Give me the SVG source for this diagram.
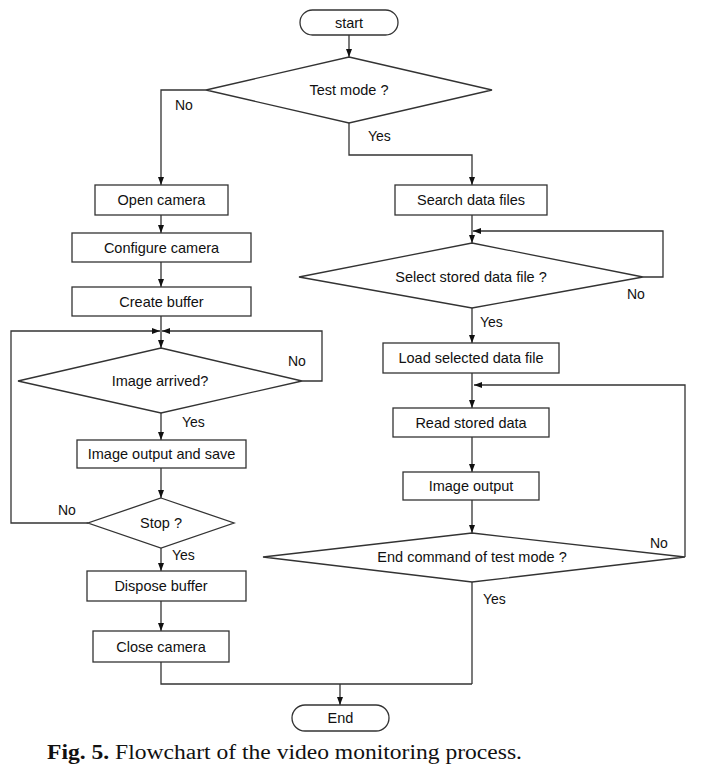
<svg xmlns="http://www.w3.org/2000/svg" width="705" height="777" viewBox="0 0 705 777">
<style>
.s{fill:#fff;stroke:#333;stroke-width:1.3}
.t{font-family:"Liberation Sans",Arial,sans-serif;font-size:14.5px;fill:#111;text-anchor:middle;dominant-baseline:central}
.l{font-family:"Liberation Sans",Arial,sans-serif;font-size:14px;fill:#111}
.c{fill:none;stroke:#333;stroke-width:1.3}
</style>
<defs>
<marker id="a" markerUnits="userSpaceOnUse" markerWidth="8" markerHeight="8" viewBox="0 0 8 8" refX="8" refY="4" orient="auto">
<path d="M0,1 L8,4 L0,7 Z" fill="#111"/>
</marker>
</defs>
<rect width="705" height="777" fill="#fff"/>
<g id="connectors">
<path class="c" d="M349,35 V57" marker-end="url(#a)"/>
<path class="c" d="M206,90 H161 V185" marker-end="url(#a)"/>
<path class="c" d="M349,123 V155 H472 V185" marker-end="url(#a)"/>
<path class="c" d="M161,215 V233" marker-end="url(#a)"/>
<path class="c" d="M161,262 V287" marker-end="url(#a)"/>
<path class="c" d="M161,316 V348" marker-end="url(#a)"/>
<path class="c" d="M302,381 H322 V331 H162" marker-end="url(#a)"/>
<path class="c" d="M88,523 H11 V331 H160" marker-end="url(#a)"/>
<path class="c" d="M161,413 V440" marker-end="url(#a)"/>
<path class="c" d="M161,468 V498" marker-end="url(#a)"/>
<path class="c" d="M161,548 V571" marker-end="url(#a)"/>
<path class="c" d="M161,601 V631" marker-end="url(#a)"/>
<path class="c" d="M161,662 V684 H472"/>
<path class="c" d="M340,684 V705" marker-end="url(#a)"/>
<path class="c" d="M472,215 V243" marker-end="url(#a)"/>
<path class="c" d="M643,277 H663 V231 H473" marker-end="url(#a)"/>
<path class="c" d="M472,308 V343" marker-end="url(#a)"/>
<path class="c" d="M472,373 V408" marker-end="url(#a)"/>
<path class="c" d="M685,557 V385 H474" marker-end="url(#a)"/>
<path class="c" d="M472,437 V472" marker-end="url(#a)"/>
<path class="c" d="M472,500 V533" marker-end="url(#a)"/>
<path class="c" d="M472,582 V684"/>
<text class="l" x="175" y="110">No</text>
<text class="l" x="368" y="141">Yes</text>
<text class="l" x="288" y="366">No</text>
<text class="l" x="182" y="427">Yes</text>
<text class="l" x="58" y="515">No</text>
<text class="l" x="172" y="560">Yes</text>
<text class="l" x="627" y="299">No</text>
<text class="l" x="480" y="327">Yes</text>
<text class="l" x="650" y="548">No</text>
<text class="l" x="483" y="604">Yes</text>
</g>
<g id="start"><rect class="s" x="300" y="10" width="98" height="25" rx="12.5"/><text class="t" x="349" y="22.5">start</text></g>
<g id="testmode"><polygon class="s" points="349,57 492,90 349,123 206,90"/><text class="t" x="349" y="90">Test mode ?</text></g>
<g id="opencamera"><rect class="s" x="95" y="185" width="133" height="30"/><text class="t" x="161.5" y="200">Open camera</text></g>
<g id="configure"><rect class="s" x="72" y="233" width="179" height="29"/><text class="t" x="161.5" y="247.5">Configure camera</text></g>
<g id="createbuffer"><rect class="s" x="72" y="287" width="179" height="29"/><text class="t" x="161.5" y="301.5">Create buffer</text></g>
<g id="imagearrived"><polygon class="s" points="161,348 302,381 161,413 18,381"/><text class="t" x="160" y="381">Image arrived?</text></g>
<g id="imageoutsave"><rect class="s" x="77" y="440" width="169" height="28"/><text class="t" x="161.5" y="454">Image output and save</text></g>
<g id="stop"><polygon class="s" points="161,498 234,523 161,548 88,523"/><text class="t" x="161" y="523">Stop ?</text></g>
<g id="dispose"><rect class="s" x="87" y="571" width="159" height="30"/><text class="t" x="161" y="586">Dispose buffer</text></g>
<g id="closecamera"><rect class="s" x="93" y="631" width="136" height="31"/><text class="t" x="161" y="646.5">Close camera</text></g>
<g id="search"><rect class="s" x="395" y="185" width="152" height="30"/><text class="t" x="471" y="200">Search data files</text></g>
<g id="select"><polygon class="s" points="472,243 643,277 472,308 299,277"/><text class="t" x="471" y="277">Select stored data file ?</text></g>
<g id="load"><rect class="s" x="383" y="343" width="176" height="30"/><text class="t" x="471" y="358">Load selected data file</text></g>
<g id="read"><rect class="s" x="393" y="408" width="156" height="29"/><text class="t" x="471" y="422.5">Read stored data</text></g>
<g id="imageoutput"><rect class="s" x="403" y="472" width="136" height="28"/><text class="t" x="471" y="486">Image output</text></g>
<g id="endcmd"><polygon class="s" points="472,533 685,557 472,582 263,557"/><text class="t" x="472" y="557">End command of test mode ?</text></g>
<g id="end"><rect class="s" x="292" y="705" width="97" height="26" rx="13"/><text class="t" x="340.5" y="718">End</text></g>
<text x="47" y="759" font-family="'Liberation Serif','Times New Roman',serif" font-size="20" fill="#111" textLength="475" lengthAdjust="spacingAndGlyphs"><tspan font-weight="bold">Fig. 5.</tspan> Flowchart of the video monitoring process.</text>
</svg>
